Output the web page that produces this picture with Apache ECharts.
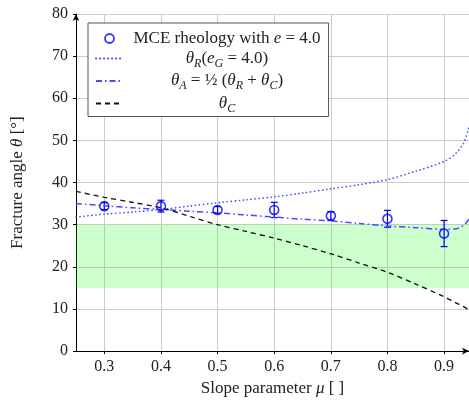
<!DOCTYPE html>
<html>
<head>
<meta charset="utf-8">
<script src="https://cdn.jsdelivr.net/npm/echarts@6/dist/echarts.min.js"></script>
<style>html,body{margin:0;padding:0;background:#fff}#c{width:469px;height:402px}</style>
</head>
<body>
<div id="c"></div>
<script>
// ---- data ----
const muCurve = [0.25, 0.3, 0.35, 0.4, 0.45, 0.5, 0.55, 0.6, 0.65, 0.7, 0.75, 0.8, 0.85, 0.9, 0.92, 0.935, 0.944];
const thetaR  = [31.8, 32.5, 33.0, 33.6, 34.4, 35.2, 35.9, 36.6, 37.5, 38.5, 39.5, 40.7, 42.7, 45.0, 46.8, 49.5, 53.2];
const thetaA  = [35.0, 34.5, 34.0, 33.6, 33.2, 32.8, 32.3, 31.8, 31.3, 30.9, 30.3, 29.7, 29.3, 28.9, 29.0, 29.9, 31.3];
const thetaC  = [37.9, 36.5, 35.3, 34.0, 32.0, 30.0, 28.4, 26.8, 25.0, 23.1, 20.9, 18.7, 15.9, 12.9, 11.5, 10.5, 9.8];
const muData   = [0.3, 0.4, 0.5, 0.6, 0.7, 0.8, 0.9];
const mceMean  = [34.4, 34.4, 33.5, 33.5, 32.1, 31.4, 27.9];
const mceErr   = [0.8, 1.4, 0.8, 1.8, 1.0, 2.0, 3.1];
const xTicks = [0.3, 0.4, 0.5, 0.6, 0.7, 0.8, 0.9];
const bandLow = 15, bandHigh = 30;

const names = {
  mce: 'MCE rheology with e = 4.0',
  r: 'θR(eG = 4.0)',
  a: 'θA = ½ (θR + θC)',
  c: 'θC'
};
const richFmt = {};
richFmt[names.mce] = '{t|MCE rheology with }{i|e}{t| = 4.0}';
richFmt[names.r] = '{i|θ}{s|R}{t|(}{i|e}{s|G}{t| = 4.0)}';
richFmt[names.a] = '{i|θ}{s|A}{t| = ½ (}{i|θ}{s|R}{t| + }{i|θ}{s|C}{t|)}';
richFmt[names.c] = '{i|θ}{s|C}';

const FONT = 'Liberation Serif';
const pair = (xs, ys) => xs.map((x, i) => [x, ys[i]]);
const BLUE_L = '#4a4aff';
const nameRich = {t: {fontFamily: FONT, fontSize: 17, color: '#222'}, i: {fontFamily: FONT, fontSize: 17, fontStyle: 'italic', color: '#222'}};

const chart = echarts.init(document.getElementById('c'), null, {renderer: 'canvas'});
chart.setOption({
  animation: false,
  backgroundColor: '#fff',
  textStyle: {fontFamily: FONT},
  grid: {left: 76, right: 0, top: 14, bottom: 47, containLabel: false},
  xAxis: {
    type: 'value', min: 0.25, max: 0.944,
    name: '{t|Slope parameter }{i|μ}{t| [ ]}', nameLocation: 'middle', nameGap: 28,
    nameTextStyle: {fontFamily: FONT, fontSize: 17, color: '#222', rich: nameRich},
    axisLine: {show: true, lineStyle: {color: '#000', width: 1}, symbol: ['none', 'arrow'], symbolSize: [5, 7]},
    axisTick: {show: true, length: 3, lineStyle: {color: '#000'}, customValues: xTicks},
    axisLabel: {fontFamily: FONT, fontSize: 16, color: '#222', margin: 8, customValues: xTicks,
      formatter: v => v.toFixed(1)},
    splitLine: {show: true, lineStyle: {color: '#cccccc', width: 1}}
  },
  yAxis: {
    type: 'value', min: 0, max: 80, interval: 10,
    name: '{t|Fracture angle }{i|θ}{t| [°]}', nameLocation: 'middle', nameGap: 50,
    nameTextStyle: {fontFamily: FONT, fontSize: 17, color: '#222', rich: nameRich},
    axisLine: {show: true, lineStyle: {color: '#000', width: 1}, symbol: ['none', 'arrow'], symbolSize: [5, 7]},
    axisTick: {show: true, length: 3, lineStyle: {color: '#000'}},
    axisLabel: {fontFamily: FONT, fontSize: 16, color: '#222', margin: 8},
    splitLine: {show: true, lineStyle: {color: '#cccccc', width: 1}}
  },
  legend: {
    left: 88, top: 23, orient: 'vertical',
    padding: [7, 8, 2, 7], itemGap: 3, itemWidth: 27, itemHeight: 9,
    backgroundColor: '#fff', borderColor: '#555', borderWidth: 1, borderRadius: 0,
    selectedMode: false,
    data: [
      {name: names.mce, icon: 'circle', itemStyle: {color: 'rgba(0,0,0,0)', borderColor: '#0000ff', borderWidth: 1.8}},
      {name: names.r, itemStyle: {opacity: 0}},
      {name: names.a, itemStyle: {opacity: 0}},
      {name: names.c, itemStyle: {opacity: 0}}
    ],
    formatter: n => richFmt[n] || n,
    textStyle: {
      width: 198, fontFamily: FONT, fontSize: 17, color: '#222',
      rich: {
        t: {fontFamily: FONT, fontSize: 17, color: '#222', lineHeight: 22, align: 'center'},
        i: {fontFamily: FONT, fontSize: 17, fontStyle: 'italic', color: '#222', lineHeight: 22, align: 'center'},
        s: {fontFamily: FONT, fontSize: 12, fontStyle: 'italic', color: '#222', verticalAlign: 'bottom', align: 'center'}
      }
    }
  },
  series: [
    {
      name: 'band', type: 'line', data: [], silent: true,
      markArea: {silent: true, itemStyle: {color: 'rgba(0,255,0,0.2)'},
        data: [[{yAxis: bandLow}, {yAxis: bandHigh}]]}
    },
    {
      name: names.r, type: 'line', data: pair(muCurve, thetaR), symbol: 'none', smooth: 0.3,
      color: BLUE_L,
      lineStyle: {color: BLUE_L, width: 1.6, type: [0.2, 3.8], cap: 'round'}
    },
    {
      name: names.a, type: 'line', data: pair(muCurve, thetaA), symbol: 'none', smooth: 0.3,
      color: BLUE_L,
      lineStyle: {color: BLUE_L, width: 1.5, type: [6, 3, 1.5, 3]}
    },
    {
      name: names.c, type: 'line', data: pair(muCurve, thetaC), symbol: 'none', smooth: 0.3,
      color: '#111',
      lineStyle: {color: '#111', width: 1.3, type: [5, 4]}
    },
    {
      name: 'errbars', type: 'custom',
      data: muData.map((x, i) => [x, mceMean[i] - mceErr[i], mceMean[i] + mceErr[i]]),
      renderItem: (params, api) => {
        const lo = api.coord([api.value(0), api.value(1)]);
        const hi = api.coord([api.value(0), api.value(2)]);
        const w = 3.5;
        const st = {stroke: '#0000ff', lineWidth: 1.2};
        return {type: 'group', children: [
          {type: 'line', shape: {x1: lo[0], y1: lo[1], x2: hi[0], y2: hi[1]}, style: st},
          {type: 'line', shape: {x1: lo[0]-w, y1: lo[1], x2: lo[0]+w, y2: lo[1]}, style: st},
          {type: 'line', shape: {x1: hi[0]-w, y1: hi[1], x2: hi[0]+w, y2: hi[1]}, style: st}
        ]};
      },
      z: 3
    },
    {
      name: names.mce, type: 'scatter', data: pair(muData, mceMean),
      symbol: 'circle', symbolSize: 9,
      itemStyle: {color: 'rgba(0,0,0,0)', borderColor: '#0000ff', borderWidth: 1.6},
      z: 4
    }
  ]
});
</script>
</body>
</html>
